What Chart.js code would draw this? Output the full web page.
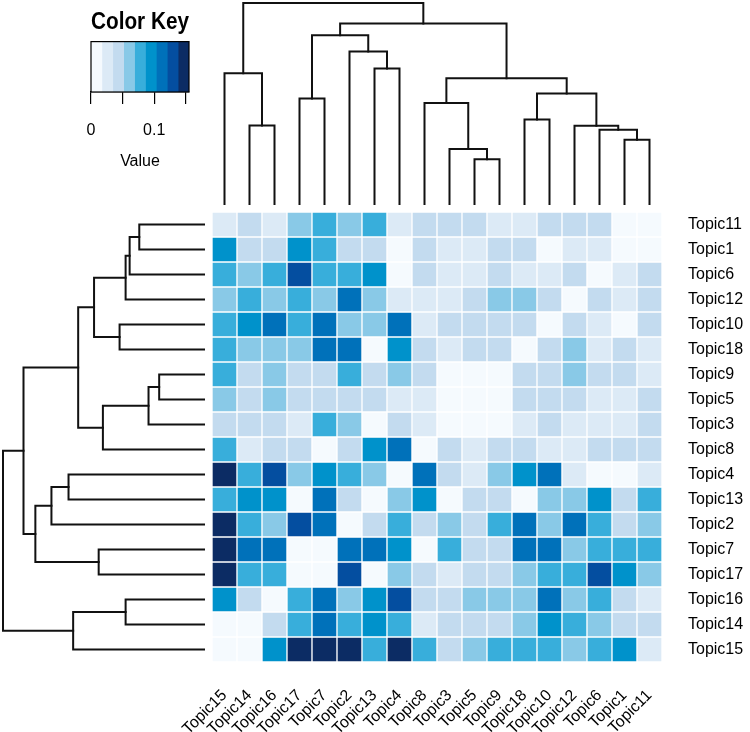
<!DOCTYPE html>
<html>
<head>
<meta charset="utf-8">
<script src="https://cdn.jsdelivr.net/npm/chart.js@4"></script>
<style>
html, body { margin: 0; padding: 0; background: #fff; }
#wrap { position: relative; width: 750px; height: 732px; }
#wrap canvas { position: absolute; left: 0; top: 0; }
</style>
</head>
<body>
<div id="wrap">
  <canvas id="heat" width="750" height="732"></canvas>
  <canvas id="colDend" width="750" height="732"></canvas>
  <canvas id="rowDend" width="750" height="732"></canvas>
  <canvas id="key" width="750" height="732"></canvas>
</div>
<script>
// row / column order as plotted (after clustering)
const rowLabels = ['Topic11','Topic1','Topic6','Topic12','Topic10','Topic18','Topic9','Topic5','Topic3',
                   'Topic8','Topic4','Topic13','Topic2','Topic7','Topic17','Topic16','Topic14','Topic15'];
const colLabels = ['Topic15','Topic14','Topic16','Topic17','Topic7','Topic2','Topic13','Topic4','Topic8',
                   'Topic3','Topic5','Topic9','Topic18','Topic10','Topic12','Topic6','Topic1','Topic11'];

// cell values, one row per rowLabels entry, columns in colLabels order
const values = [
  [0.03,0.04,0.03,0.06,0.08,0.06,0.08,0.03,0.04,0.04,0.04,0.03,0.03,0.04,0.04,0.04,0.01,0],
  [0.09,0.04,0.04,0.09,0.08,0.04,0.04,0.01,0.04,0.03,0.03,0.04,0.04,0.01,0.03,0.03,0,0.01],
  [0.08,0.06,0.08,0.13,0.08,0.08,0.09,0.01,0.04,0.03,0.03,0.04,0.03,0.03,0.04,0,0.03,0.04],
  [0.06,0.08,0.06,0.08,0.06,0.11,0.06,0.03,0.03,0.03,0.04,0.06,0.06,0.04,0,0.04,0.03,0.04],
  [0.08,0.09,0.11,0.08,0.11,0.06,0.06,0.11,0.03,0.04,0.04,0.04,0.04,0,0.04,0.03,0.01,0.04],
  [0.08,0.06,0.06,0.06,0.11,0.11,0.01,0.09,0.04,0.03,0.04,0.04,0,0.04,0.06,0.03,0.04,0.03],
  [0.08,0.04,0.06,0.04,0.04,0.08,0.04,0.06,0.04,0.01,0.01,0,0.04,0.04,0.06,0.04,0.04,0.03],
  [0.06,0.04,0.06,0.04,0.04,0.04,0.04,0.03,0.03,0.01,0,0.01,0.04,0.04,0.04,0.03,0.03,0.04],
  [0.04,0.04,0.04,0.03,0.08,0.06,0.01,0.04,0.03,0,0.01,0.01,0.03,0.04,0.03,0.03,0.03,0.04],
  [0.08,0.03,0.04,0.04,0.01,0.04,0.09,0.11,0,0.04,0.03,0.04,0.04,0.03,0.03,0.04,0.04,0.04],
  [0.15,0.08,0.13,0.06,0.09,0.08,0.06,0,0.11,0.04,0.03,0.06,0.09,0.11,0.03,0.01,0.01,0.03],
  [0.08,0.09,0.09,0.01,0.11,0.04,0,0.06,0.09,0.01,0.04,0.04,0.01,0.06,0.06,0.09,0.04,0.08],
  [0.15,0.08,0.06,0.13,0.11,0,0.04,0.08,0.04,0.06,0.04,0.08,0.11,0.06,0.11,0.08,0.04,0.06],
  [0.15,0.11,0.11,0.01,0,0.11,0.11,0.09,0.01,0.08,0.04,0.04,0.11,0.11,0.06,0.08,0.08,0.08],
  [0.15,0.08,0.08,0,0.01,0.13,0.01,0.06,0.04,0.03,0.04,0.04,0.06,0.08,0.08,0.13,0.09,0.06],
  [0.09,0.04,0,0.08,0.11,0.06,0.09,0.13,0.04,0.04,0.06,0.06,0.06,0.11,0.06,0.08,0.04,0.03],
  [0.01,0,0.04,0.08,0.11,0.08,0.09,0.08,0.03,0.04,0.04,0.04,0.06,0.09,0.08,0.06,0.04,0.04],
  [0,0.01,0.09,0.15,0.15,0.15,0.08,0.15,0.08,0.04,0.06,0.08,0.08,0.08,0.06,0.08,0.09,0.03]
];

// dendrograms, hclust style merge rows: [left, right, height]
// negative = leaf (1-based position in plotted order), positive = earlier merge row
const colMerge = [
  [-2,-3,0.39], [-1,1,0.651], [-4,-5,0.525], [-7,-8,0.674], [-6,4,0.759], [3,5,0.839],
  [-11,-12,0.223], [-10,7,0.274], [-9,8,0.503], [-13,-14,0.42], [-17,-18,0.32], [-16,11,0.37],
  [-15,12,0.389], [10,13,0.55], [9,14,0.626], [6,15,0.898], [2,16,1.0]
];
const rowMerge = [
  [-1,-2,0.322], [-3,1,0.37], [-4,2,0.39], [-5,-6,0.42], [3,4,0.547], [-7,-8,0.223],
  [-9,6,0.276], [-10,7,0.503], [5,8,0.626], [-11,-12,0.674], [-13,10,0.759], [-14,-15,0.524],
  [11,12,0.839], [9,13,0.898], [-16,-17,0.39], [-18,15,0.651], [14,16,1.0]
];

// colour key
const keyBreaks = [0, 0.0172, 0.0344, 0.0517, 0.0689, 0.0861, 0.1033, 0.1206, 0.1378, 0.155];
const keyColors = ['#F5FAFE','#DCEAF6','#C3DBEF','#89C9E7','#38AEDB','#0092CB','#0071BA','#044EA0','#0C2C64'];
const keyTicks = [0, 0.05, 0.1, 0.15];
const keyTickLabels = ['0', '', '0.1', ''];

Chart.defaults.font.family = "'Liberation Sans', Arial, sans-serif";
Chart.defaults.color = '#000';

function colorFor(v) {
  for (let i = 0; i < keyColors.length; i++) {
    if (v < keyBreaks[i + 1]) return keyColors[i];
  }
  return keyColors[keyColors.length - 1];
}

// turn a merge table into one polyline per merge: [{pos, h}, ...]
function dendroLinks(merge) {
  const nodes = [];
  const node = id => id < 0 ? { pos: -id - 1, h: 0 } : nodes[id - 1];
  const links = [];
  merge.forEach(([a, b, h]) => {
    const na = node(a), nb = node(b);
    links.push([{ pos: na.pos, h: na.h }, { pos: na.pos, h: h }, { pos: nb.pos, h: h }, { pos: nb.pos, h: nb.h }]);
    nodes.push({ pos: (na.pos + nb.pos) / 2, h: h });
  });
  return links;
}

const noLegend = { legend: { display: false }, tooltip: { enabled: false } };
const lineStyle = { showLine: true, borderColor: '#111', borderWidth: 2, pointRadius: 0, clip: false,
                    borderJoinStyle: 'miter', borderCapStyle: 'square', tension: 0 };

// heatmap
new Chart(document.getElementById('heat'), {
  type: 'bar',
  data: {
    labels: colLabels,
    datasets: rowLabels.map((name, r) => ({
      label: name,
      data: colLabels.map(() => 1),
      backgroundColor: values[r].map(colorFor),
      borderColor: '#fff',
      borderWidth: 1,
      borderSkipped: false,
      categoryPercentage: 1,
      barPercentage: 1
    }))
  },
  options: {
    responsive: false,
    animation: false,
    layout: { padding: { left: 212, top: 212, right: 0, bottom: 0 } },
    plugins: noLegend,
    scales: {
      x: {
        stacked: true,
        grid: { display: false, drawTicks: false },
        border: { display: false },
        ticks: { autoSkip: false, minRotation: 45, maxRotation: 45, padding: 24, font: { size: 16 } },
        afterFit: s => { s.height = 70; }
      },
      y: { stacked: true, display: false, min: 0, max: 18, reverse: true },
      rows: {
        type: 'category',
        labels: rowLabels,
        offset: true,
        position: 'right',
        grid: { display: false, drawTicks: false },
        border: { display: false },
        ticks: { padding: 26, font: { size: 16 } },
        afterFit: s => { s.width = 88; }
      }
    }
  }
});

// column dendrogram (top)
new Chart(document.getElementById('colDend'), {
  type: 'scatter',
  data: {
    datasets: dendroLinks(colMerge).map(l => Object.assign({ data: l.map(p => ({ x: p.pos, y: p.h })) }, lineStyle))
  },
  options: {
    responsive: false,
    animation: false,
    layout: { padding: { left: 212, right: 88, top: 3, bottom: 528 } },
    plugins: noLegend,
    scales: {
      x: { type: 'linear', display: false, min: -0.5, max: 17.5 },
      y: { type: 'linear', display: false, min: 0, max: 1 }
    }
  }
});

// row dendrogram (left)
new Chart(document.getElementById('rowDend'), {
  type: 'scatter',
  data: {
    datasets: dendroLinks(rowMerge).map(l => Object.assign({ data: l.map(p => ({ x: p.h, y: p.pos })) }, lineStyle))
  },
  options: {
    responsive: false,
    animation: false,
    layout: { padding: { left: 3, right: 546, top: 212, bottom: 70 } },
    plugins: noLegend,
    scales: {
      x: { type: 'linear', display: false, min: 0, max: 1, reverse: true },
      y: { type: 'linear', display: false, min: -0.5, max: 17.5, reverse: true }
    }
  }
});

// colour key
const keyFrame = {
  id: 'keyFrame',
  afterDatasetsDraw(chart) {
    const a = chart.chartArea, ctx = chart.ctx;
    ctx.save();
    ctx.strokeStyle = '#000';
    ctx.lineWidth = 1.2;
    ctx.strokeRect(a.left, a.top, a.right - a.left, a.bottom - a.top);
    ctx.restore();
  }
};

new Chart(document.getElementById('key'), {
  type: 'bar',
  data: {
    labels: ['key'],
    datasets: keyColors.map((c, i) => ({
      data: [[keyBreaks[i], keyBreaks[i + 1]]],
      backgroundColor: c,
      borderWidth: 0,
      grouped: false,
      categoryPercentage: 1,
      barPercentage: 1
    }))
  },
  options: {
    indexAxis: 'y',
    responsive: false,
    animation: false,
    layout: { padding: { left: 91, right: 561, top: 9, bottom: 561 } },
    plugins: {
      legend: { display: false },
      tooltip: { enabled: false },
      title: { display: true, text: 'Color Key', font: { size: 23, weight: 'bold' }, padding: { top: 0, bottom: 5 } }
    },
    scales: {
      x: {
        type: 'linear',
        min: keyBreaks[0],
        max: keyBreaks[keyBreaks.length - 1],
        afterBuildTicks: s => { s.ticks = keyTicks.map(v => ({ value: v })); },
        ticks: { callback: (v, i) => keyTickLabels[i], maxRotation: 0, padding: 17, font: { size: 16 } },
        grid: { drawOnChartArea: false, drawTicks: true, tickLength: 12, color: '#000', lineWidth: 1.2 },
        border: { display: true, color: '#000', width: 1.2 },
        title: { display: true, text: 'Value', font: { size: 16 }, padding: 0 },
        afterFit: s => { s.height = 79; }
      },
      y: { display: false }
    }
  }
  ,
  plugins: [keyFrame]
});
</script>
</body>
</html>
